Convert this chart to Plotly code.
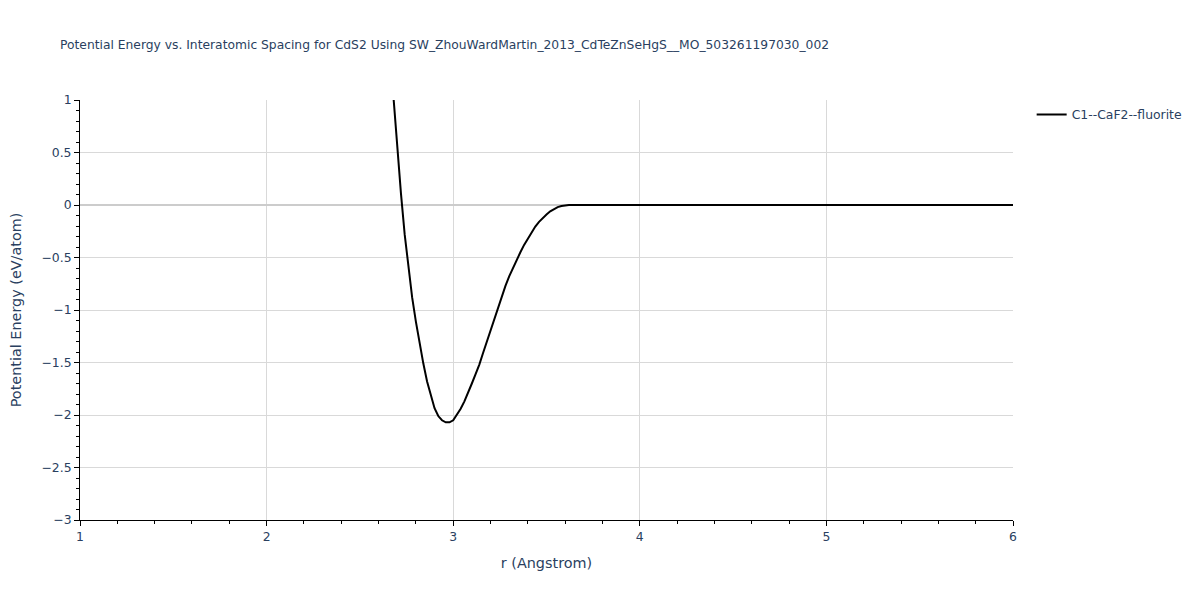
import plotly.graph_objects as go

r_values = [2.64, 2.66, 2.68, 2.70, 2.72, 2.74, 2.76, 2.78, 2.80, 2.82, 2.84, 2.86,
            2.88, 2.90, 2.92, 2.94, 2.96, 2.98, 3.00, 3.02, 3.04, 3.06, 3.08, 3.10,
            3.12, 3.14, 3.16, 3.18, 3.20, 3.22, 3.24, 3.26, 3.28, 3.30, 3.32, 3.34,
            3.36, 3.38, 3.40, 3.42, 3.44, 3.46, 3.48, 3.50, 3.52, 3.54, 3.56, 3.58,
            3.60, 3.62, 3.70, 4.0, 5.0, 6.0]
energy_values = [1.94, 1.47, 1.0, 0.54, 0.11, -0.28, -0.61, -0.88, -1.11, -1.32, -1.51, -1.68,
                 -1.82, -1.935, -2.01, -2.05, -2.07, -2.07, -2.05, -2.0, -1.94, -1.87, -1.79, -1.70,
                 -1.61, -1.52, -1.41, -1.30, -1.19, -1.08, -0.97, -0.87, -0.77, -0.68, -0.60, -0.52,
                 -0.45, -0.38, -0.32, -0.26, -0.205, -0.16, -0.12, -0.09, -0.06, -0.037, -0.02, -0.009,
                 -0.003, 0.0, 0.0, 0.0, 0.0, 0.0]
series_name = "C1--CaF2--fluorite"
title_text = "Potential Energy vs. Interatomic Spacing for CdS2 Using SW_ZhouWardMartin_2013_CdTeZnSeHgS__MO_503261197030_002"

FONT = "DejaVu Sans, Verdana, sans-serif"

fig = go.Figure()
fig.add_trace(go.Scatter(x=r_values, y=energy_values, mode="lines", name=series_name,
                         line=dict(color="black", width=2)))

axis_common = dict(
    showline=True, linecolor="black", linewidth=1,
    ticks="outside", ticklen=5, tickcolor="black",
    gridcolor="#d9d9d9", zeroline=True, zerolinecolor="#cccccc", zerolinewidth=2,
    tickfont=dict(color="#2a3f5f", size=12.4),
    automargin=False,
)

fig.update_layout(
    width=1200, height=600,
    paper_bgcolor="white", plot_bgcolor="white",
    margin=dict(l=72, r=195, t=92, b=88),
    title=dict(text=title_text, x=52/1200, xanchor="left", y=1 - 37/600, yanchor="middle",
               font=dict(size=12.3, color="#2a3f5f")),
    font=dict(family=FONT, color="#2a3f5f", size=12.4),
    showlegend=True,
    legend=dict(x=1.02, y=1, font=dict(size=12.4)),
    xaxis=dict(title=dict(text="r (Angstrom)", font=dict(size=14.4)), range=[1, 6], dtick=1,
               minor=dict(ticks="outside", dtick=0.2, ticklen=3, tickcolor="black", showgrid=False),
               **axis_common),
    yaxis=dict(title=dict(text="Potential Energy (eV/atom)", font=dict(size=14.4), standoff=18),
               range=[-3, 1], dtick=0.5,
               minor=dict(ticks="outside", dtick=0.1, ticklen=3, tickcolor="black", showgrid=False),
               **axis_common),
)

fig.write_html("out.html")
